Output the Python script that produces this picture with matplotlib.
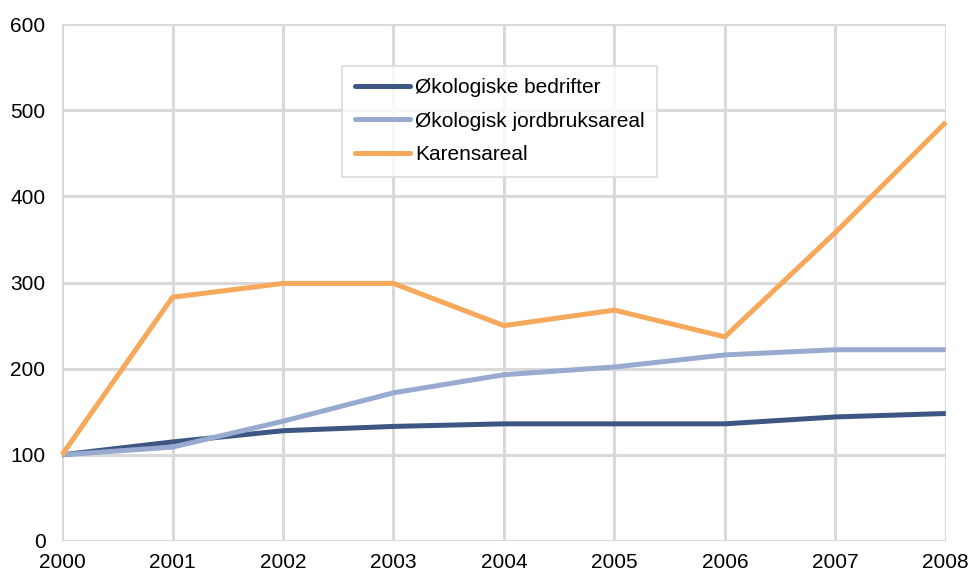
import matplotlib
matplotlib.use("Agg")
import matplotlib.pyplot as plt

plt.rcParams['font.family'] = ['Liberation Sans', 'DejaVu Sans']

years = [2000, 2001, 2002, 2003, 2004, 2005, 2006, 2007, 2008]
bedrifter = [100, 115, 128, 133, 136, 136, 136, 144, 148]
jordbruksareal = [100, 109, 139, 172, 193, 202, 216, 222, 222]
karensareal = [100, 283, 299, 299, 250, 268, 237, 358, 486]

fig = plt.figure(figsize=(9.7, 5.74), dpi=100)
ax = fig.add_axes([0.064, 0.0575, 0.911, 0.9005])

ax.plot(years, bedrifter, color="#3E5683", lw=3.6, label="Økologiske bedrifter",
        solid_capstyle="butt", clip_on=False, zorder=3)
ax.plot(years, jordbruksareal, color="#98AACF", lw=3.6, label="Økologisk jordbruksareal",
        solid_capstyle="butt", clip_on=False, zorder=3)
ax.plot(years, karensareal, color="#F6A85B", lw=3.6, label="Karensareal",
        solid_capstyle="butt", clip_on=False, zorder=3)

ax.set_xlim(2000, 2008)
ax.set_ylim(0, 600)
ax.set_xticks(years)
ax.set_yticks(range(0, 601, 100))
ax.grid(True, color="#D9D9D9", lw=2.2)
ax.set_axisbelow(True)
for s in ax.spines.values():
    s.set_visible(False)
ax.tick_params(axis="y", length=0, labelsize=15, pad=12)
ax.tick_params(axis="x", length=0, labelsize=15, pad=8.5)

leg = ax.legend(loc="upper left", bbox_to_anchor=(0.3055, 0.94), fontsize=15,
                frameon=True, fancybox=False, edgecolor="#D9D9D9",
                handlelength=2.65, handletextpad=0.25, borderpad=0.6, labelspacing=0.7)
leg.get_frame().set_linewidth(1.5)
for h in leg.get_lines():
    h.set_solid_capstyle("round")

fig.savefig("out.png", dpi=100)
